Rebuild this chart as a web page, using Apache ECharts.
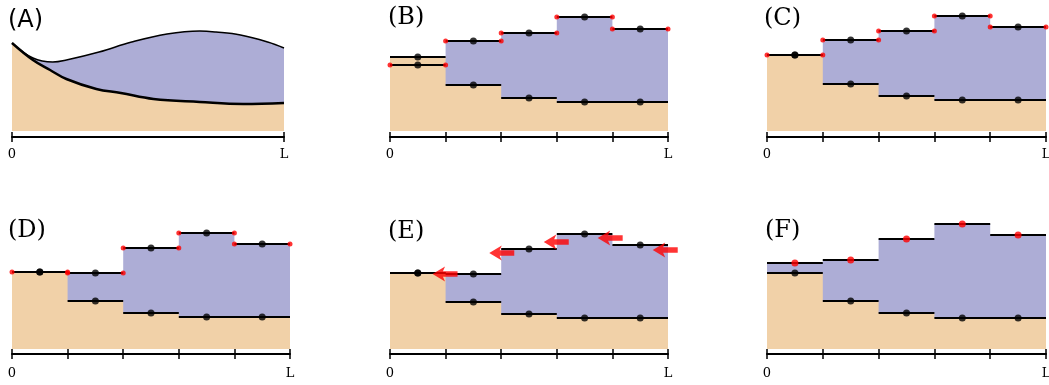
<!DOCTYPE html>
<html>
<head>
<meta charset="utf-8">
<script src="https://cdn.jsdelivr.net/npm/echarts@6/dist/echarts.min.js"></script>
<style>
html, body { margin: 0; padding: 0; background: #fff; }
#main { width: 1049px; height: 385px; }
</style>
</head>
<body>
<div id="main"></div>
<script>
// (A) smooth profiles, x as a fraction of L
var aUpperX = [0, 0.077, 0.15, 0.2, 0.32, 0.44, 0.57, 0.69, 0.75, 0.84, 0.94, 1];
var aUpperY = [88, 73, 69, 71, 79, 89, 97, 100, 99, 96, 89, 83];
var aLowerX = [0, 0.077, 0.14, 0.2, 0.31, 0.4, 0.52, 0.69, 0.85, 1];
var aLowerY = [88, 71, 61, 52, 42, 38, 32, 29, 27, 28];

// step panels, one value per cell (5 cells)
var bLower = [66, 46, 33, 29, 29];
var bUpper = [74, 90, 98, 114, 102];
var bFill  = [74, 46, 33, 29, 29];
var bRed   = [66, 90, 98, 114, 102];

var cLower = [76, 47, 35, 31, 31];
var cUpper = [76, 91, 100, 115, 104];

var dLower = [77, 48, 36, 32, 32];
var dUpper = [77, 76, 101, 116, 105];

var eLower = [76, 47, 35, 31, 31];
var eUpper = [76, 75, 100, 115, 104];
var eArrowX = [0.99, 2.01, 2.99, 3.96, 4.95];
var eArrowY = [75, 96, 107, 111, 99];

var fLower = [76, 48, 36, 31, 31];
var fUpper = [86, 89, 110, 125, 114];

var titles = ['(A)', '(B)', '(C)', '(D)', '(E)', '(F)'];

var ORANGE = '#f1d1a8', BLUE = '#adadd6';
var ARROW = 'path://M0,7L12,0L10,4.4L24,4.4L24,9.6L10,9.6L12,14Z';

// grid bottom = axis line; the fill stops at 0, a few px above it
var grids = [
    {left: 12, top: 11, width: 272, height: 126},
    {left: 390, top: 11, width: 278, height: 126},
    {left: 767, top: 11, width: 279, height: 126},
    {left: 12, top: 219, width: 278, height: 135},
    {left: 390, top: 219, width: 278, height: 135},
    {left: 767, top: 219, width: 279, height: 135}
];
var yMin = [-6, -6, -6, -5, -5, -5];
var yMax = [120, 120, 120, 130, 130, 130];
var xMax = [1, 5, 5, 5, 5, 5];
var labelMargin = [11, 11, 11, 13, 13, 13];
var titlePos = [[8, 9], [388, 6], [764, 7], [8, 219], [388, 220], [765, 219]];

function stepData(v) {
    var d = v.map(function (y, i) { return [i, y]; });
    d.push([v.length, v[v.length - 1]]);
    return d;
}
function segData(v) {
    var d = [];
    v.forEach(function (y, i) { d.push([i, y], [i + 1, y], [i + 1, null]); });
    return d;
}
function centers(v) { return v.map(function (y, i) { return [i + 0.5, y]; }); }
function edgesOf(v) {
    var d = [];
    v.forEach(function (y, i) { d.push([i, y], [i + 1, y]); });
    return d;
}
function zip(xs, ys) { return xs.map(function (x, i) { return [x, ys[i]]; }); }

var xAxes = [], yAxes = [], series = [];
grids.forEach(function (g, k) {
    var mx = xMax[k];
    g.containLabel = false;
    g.outerBoundsMode = 'none';
    xAxes.push({
        type: 'value', gridIndex: k, min: 0, max: mx, interval: 1, position: 'bottom', z: 10,
        axisLine: {show: true, onZero: false, lineStyle: {color: '#000', width: 2}},
        axisTick: {show: true, inside: false, length: 5, lineStyle: {color: '#000', width: 1.5}},
        axisLabel: {
            margin: labelMargin[k], fontFamily: 'DejaVu Serif', fontSize: 13, color: '#000',
            formatter: function (v) { return v === 0 ? '0' : (v === mx ? 'L' : ''); }
        },
        splitLine: {show: false}
    });
    // upper half of the ticks
    xAxes.push({
        type: 'value', gridIndex: k, min: 0, max: mx, interval: 1, position: 'bottom', z: 10,
        axisLine: {show: false, onZero: false},
        axisTick: {show: true, inside: true, length: 5, lineStyle: {color: '#000', width: 1.5}},
        axisLabel: {show: false}, splitLine: {show: false}
    });
    yAxes.push({type: 'value', gridIndex: k, min: yMin[k], max: yMax[k], show: false});
});

function ax(k) { return {xAxisIndex: 2 * k, yAxisIndex: k}; }
function add(k, s) { series.push(Object.assign(s, ax(k))); }

function areaStep(k, v, color, z) {
    add(k, {type: 'line', step: 'end', data: stepData(v), symbol: 'none', z: z,
        lineStyle: {width: 0}, areaStyle: {color: color, opacity: 1, origin: 0}});
}
function segs(k, v) {
    add(k, {type: 'line', data: segData(v), symbol: 'none', connectNulls: false, z: 3,
        lineStyle: {color: '#000', width: 2}});
}
function dots(k, data, color, size, z) {
    add(k, {type: 'scatter', data: data, symbol: 'circle', symbolSize: size, z: z,
        itemStyle: {color: color}});
}

// (A)
add(0, {type: 'line', smooth: 0.4, data: zip(aUpperX, aUpperY), symbol: 'none', z: 1,
    lineStyle: {color: '#000', width: 1.5}, areaStyle: {color: BLUE, opacity: 1, origin: 0}});
add(0, {type: 'line', smooth: 0.4, data: zip(aLowerX, aLowerY), symbol: 'none', z: 2,
    lineStyle: {color: '#000', width: 2.5}, areaStyle: {color: ORANGE, opacity: 1, origin: 0}});

// (B)
areaStep(1, bUpper, BLUE, 1); areaStep(1, bFill, ORANGE, 2);
segs(1, bUpper); segs(1, bLower);
dots(1, centers(bUpper).concat(centers(bLower)), '#000', 7, 4);
dots(1, edgesOf(bRed), '#ff0000', 5, 5);

// (C)
areaStep(2, cUpper, BLUE, 1); areaStep(2, cLower, ORANGE, 2);
segs(2, cUpper); segs(2, cLower);
dots(2, centers(cUpper).concat(centers(cLower)), '#000', 7, 4);
dots(2, edgesOf(cUpper), '#ff0000', 5, 5);

// (D)
areaStep(3, dUpper, BLUE, 1); areaStep(3, dLower, ORANGE, 2);
segs(3, dUpper); segs(3, dLower);
dots(3, centers(dUpper).concat(centers(dLower)), '#000', 7, 4);
dots(3, edgesOf(dUpper), '#ff0000', 5, 5);

// (E)
areaStep(4, eUpper, BLUE, 1); areaStep(4, eLower, ORANGE, 2);
segs(4, eUpper); segs(4, eLower);
dots(4, centers(eUpper).concat(centers(eLower)), '#000', 7, 4);
add(4, {type: 'scatter', data: zip(eArrowX, eArrowY), symbol: ARROW, symbolSize: [25, 15], z: 6,
    itemStyle: {color: '#ff0000'}});

// (F)
areaStep(5, fUpper, BLUE, 1); areaStep(5, fLower, ORANGE, 2);
segs(5, fUpper); segs(5, fLower);
dots(5, centers(fLower), '#000', 7, 4);
dots(5, centers(fUpper), '#ff0000', 7, 5);

var myChart = echarts.init(document.getElementById('main'));
myChart.setOption({
    animation: false,
    title: titles.map(function (t, i) {
        return {text: t, left: titlePos[i][0], top: titlePos[i][1], padding: 0,
            textStyle: {fontFamily: i === 0 ? 'DejaVu Sans' : 'DejaVu Serif',
                fontSize: 24, fontWeight: 'normal', color: '#000'}};
    }),
    grid: grids,
    xAxis: xAxes,
    yAxis: yAxes,
    series: series
});
</script>
</body>
</html>
